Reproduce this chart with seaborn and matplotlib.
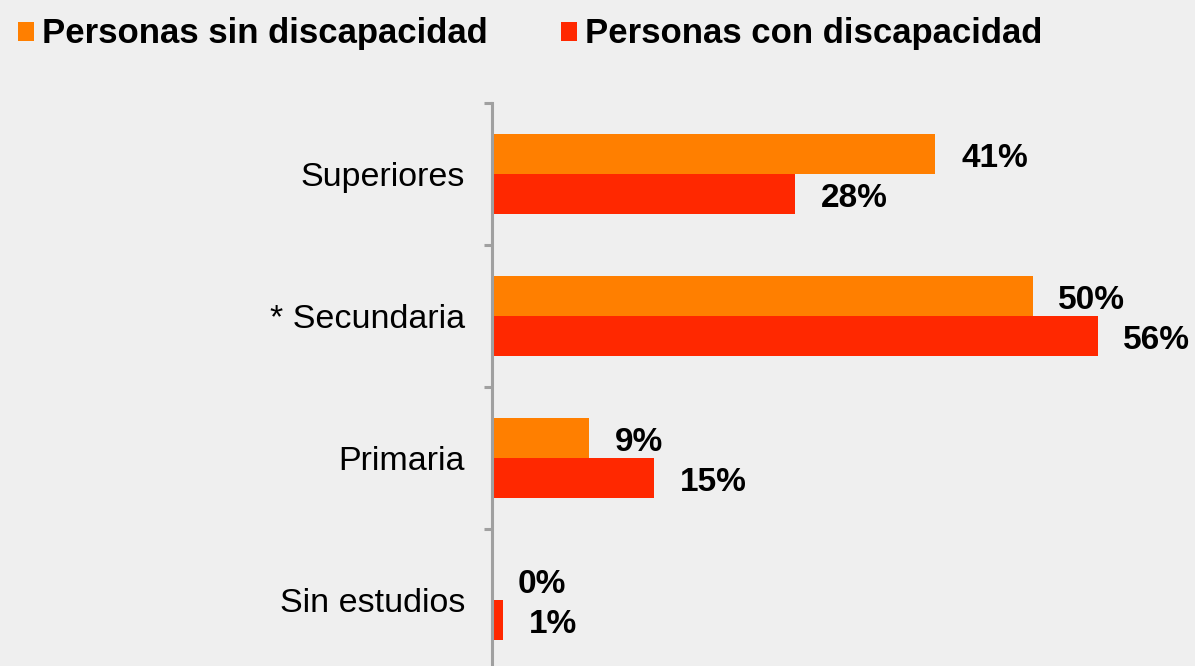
import seaborn as sns
import matplotlib.pyplot as plt
import pandas as pd

niveles = ['Superiores', '* Secundaria', 'Primaria', 'Sin estudios']
sin_discapacidad = [41, 50, 9, 0]
con_discapacidad = [28, 56, 15, 1]
grupos = ['Personas sin discapacidad', 'Personas con discapacidad']
colores = ['#ff7f00', '#ff2800']

df = pd.DataFrame({
    'nivel': niveles * 2,
    'pct': sin_discapacidad + con_discapacidad,
    'grupo': [grupos[0]] * len(niveles) + [grupos[1]] * len(niveles),
})

sns.set_theme(style='white')
plt.rcParams['font.family'] = ['Liberation Sans', 'DejaVu Sans']
plt.rcParams['text.color'] = 'black'
bg = '#efefef'
gris = '#a0a0a0'

fig = plt.figure(figsize=(11.95, 6.66), dpi=100, facecolor=bg)
ax = fig.add_axes([492 / 1195, -5 / 666, 692 / 1195, 568 / 666])
ax.set_facecolor(bg)

sns.barplot(data=df, y='nivel', x='pct', hue='grupo', hue_order=grupos,
            order=niveles, palette=colores, orient='h', width=0.56,
            saturation=1, linewidth=0, ax=ax)

for cont in ax.containers:
    anns = ax.bar_label(cont, labels=[f'{v:.0f}%' for v in cont.datavalues],
                        padding=18.5, fontsize=24, fontweight='bold',
                        color='black')
    for a in anns:
        a.xyann = (18.5, -3)

ax.set_xlim(0, 64)
ax.set_ylim(len(niveles) - 0.5, -0.5)
ax.set_xlabel('')
ax.set_ylabel('')
ax.xaxis.set_visible(False)
for s in ['top', 'right', 'bottom']:
    ax.spines[s].set_visible(False)
ax.spines['left'].set_color(gris)
ax.spines['left'].set_linewidth(2.2)

ax.set_yticks(range(len(niveles)))
ax.set_yticklabels(niveles, fontsize=24.5, color='black')
ax.set_yticks([i - 0.5 for i in range(len(niveles) + 1)], minor=True)
ax.tick_params(axis='y', which='major', length=0, pad=19.5)
ax.tick_params(axis='y', which='minor', direction='out', length=5.8,
               width=2.2, color=gris, left=True)

handles, labels = ax.get_legend_handles_labels()
ax.get_legend().remove()
fig.legend(handles, labels, loc='center left',
           bbox_to_anchor=(18 / 1195, 1 - 34 / 666), ncol=2, frameon=False,
           prop={'weight': 'bold', 'size': 25}, labelcolor='black',
           handlelength=0.46, handleheight=0.46, handletextpad=0.24,
           columnspacing=2.1, borderpad=0, borderaxespad=0)

fig.savefig('out.png', dpi=100, facecolor=bg)
